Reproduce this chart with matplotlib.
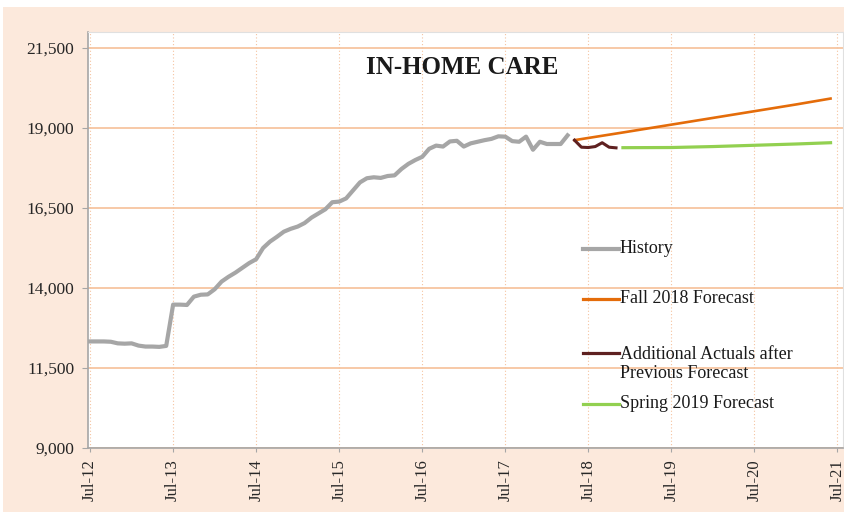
"""In-home care caseload: history, additional actuals and two forecasts (Jul-12 .. Jul-21)."""
import matplotlib

matplotlib.use("Agg")
import matplotlib.pyplot as plt  # noqa: E402
from matplotlib.patches import Rectangle  # noqa: E402

# months counted from Jul-2012 (0 = Jul-12, 12 = Jul-13, ...)
HIST_MONTH = list(range(0, 70))
HIST_VALUE = [12330, 12330, 12330, 12320, 12270, 12260, 12270, 12200, 12170, 12170,
              12160, 12190, 13480, 13480, 13470, 13730, 13790, 13800, 13960, 14200,
              14350, 14480, 14630, 14780, 14900, 15250, 15450, 15600, 15760, 15850,
              15920, 16030, 16200, 16330, 16460, 16680, 16700, 16800, 17050, 17300,
              17430, 17460, 17440, 17500, 17520, 17720, 17880, 18000, 18100, 18350,
              18450, 18420, 18580, 18600, 18420, 18520, 18570, 18620, 18660, 18740,
              18730, 18590, 18570, 18730, 18320, 18570, 18500, 18500, 18500, 18770]

FALL_MONTH = [70, 77, 84, 90, 96, 102, 107]
FALL_VALUE = [18620, 18860, 19105, 19315, 19525, 19735, 19920]

ACTUAL_MONTH = [70, 71, 72, 73, 74, 75, 76]
ACTUAL_VALUE = [18620, 18400, 18390, 18420, 18540, 18400, 18380]

SPRING_MONTH = [77, 84, 90, 96, 102, 107]
SPRING_VALUE = [18385, 18390, 18420, 18460, 18500, 18540]

TICK_MONTH = [0, 12, 24, 36, 48, 60, 72, 84, 96, 108]
TICK_LABEL = ["Jul-12", "Jul-13", "Jul-14", "Jul-15", "Jul-16",
              "Jul-17", "Jul-18", "Jul-19", "Jul-20", "Jul-21"]
Y_TICKS = [9000, 11500, 14000, 16500, 19000, 21500]

BG = "#FCE9DC"
GRID_H = "#F7C9A7"
GRID_V = "#F5C3A0"
SERIES = [  # label, colour, width
    ("History", "#A6A6A6", 3.0),
    ("Fall 2018 Forecast", "#E46C0A", 1.9),
    ("Additional Actuals after\nPrevious Forecast", "#5E2020", 2.2),
    ("Spring 2019 Forecast", "#92D050", 2.3),
]
LEGEND_Y = [0.478, 0.358, 0.228, 0.106]   # axes fraction of each legend handle

plt.rcParams["font.family"] = ["Liberation Serif", "DejaVu Serif"]

fig = plt.figure(figsize=(8.44, 5.12), dpi=100, facecolor="white")
fig.patches.append(Rectangle((3 / 844, 0), 1, (512 - 7) / 512, transform=fig.transFigure,
                             facecolor=BG, edgecolor="none", zorder=-5))
ax = fig.add_axes([88 / 844, 64 / 512, 755 / 844, 416 / 512])
ax.set_facecolor("white")

ax.plot(HIST_MONTH, HIST_VALUE, color=SERIES[0][1], lw=SERIES[0][2], zorder=4,
        solid_joinstyle="round")
ax.plot(FALL_MONTH, FALL_VALUE, color=SERIES[1][1], lw=SERIES[1][2], zorder=4)
ax.plot(ACTUAL_MONTH, ACTUAL_VALUE, color=SERIES[2][1], lw=SERIES[2][2], zorder=5,
        solid_joinstyle="round")
ax.plot(SPRING_MONTH, SPRING_VALUE, color=SERIES[3][1], lw=SERIES[3][2], zorder=4)

ax.set_xlim(-0.3, 108.8)
ax.set_ylim(9000, 22000)
ax.set_yticks(Y_TICKS)
ax.set_yticklabels([f"{v:,}" for v in Y_TICKS], fontsize=12.5, color="#262626")
ax.set_xticks(TICK_MONTH)
ax.set_xticklabels(TICK_LABEL, rotation=90, fontsize=12, color="#262626")
ax.tick_params(axis="y", length=4, width=0.8, color="#A6A6A6", pad=6)
ax.tick_params(axis="x", length=3, width=0.8, color="#A6A6A6", pad=5)

for y in Y_TICKS:
    ax.axhline(y, color=GRID_H, lw=1.4, zorder=1)
for m in TICK_MONTH:
    ax.axvline(m, color=GRID_V, lw=0.8, ls=(0, (1, 2)), zorder=1)

for side in ["left", "bottom"]:
    ax.spines[side].set_color("#A6A6A6")
    ax.spines[side].set_linewidth(1.2)
for side in ["top", "right"]:
    ax.spines[side].set_color("#E0E0E0")
    ax.spines[side].set_linewidth(0.8)

ax.text(0.495, 0.915, "IN-HOME CARE", transform=ax.transAxes, ha="center", va="center",
        fontsize=18, fontweight="bold", color="#1a1a1a")

# legend drawn by hand so the rows sit where the original puts them
for (label, col, lw), yf in zip(SERIES, LEGEND_Y):
    ax.plot([0.656, 0.703], [yf, yf], transform=ax.transAxes, color=col, lw=max(lw, 2.3),
            clip_on=False, zorder=6)
    if "\n" in label:
        ax.text(0.704, yf + 0.017, label, transform=ax.transAxes, ha="left", va="top",
                fontsize=13, color="#1a1a1a", linespacing=1.12)
    else:
        ax.text(0.704, yf + 0.002, label, transform=ax.transAxes, ha="left", va="center",
                fontsize=13, color="#1a1a1a")

fig.savefig("out.png", dpi=100, facecolor=fig.get_facecolor())
